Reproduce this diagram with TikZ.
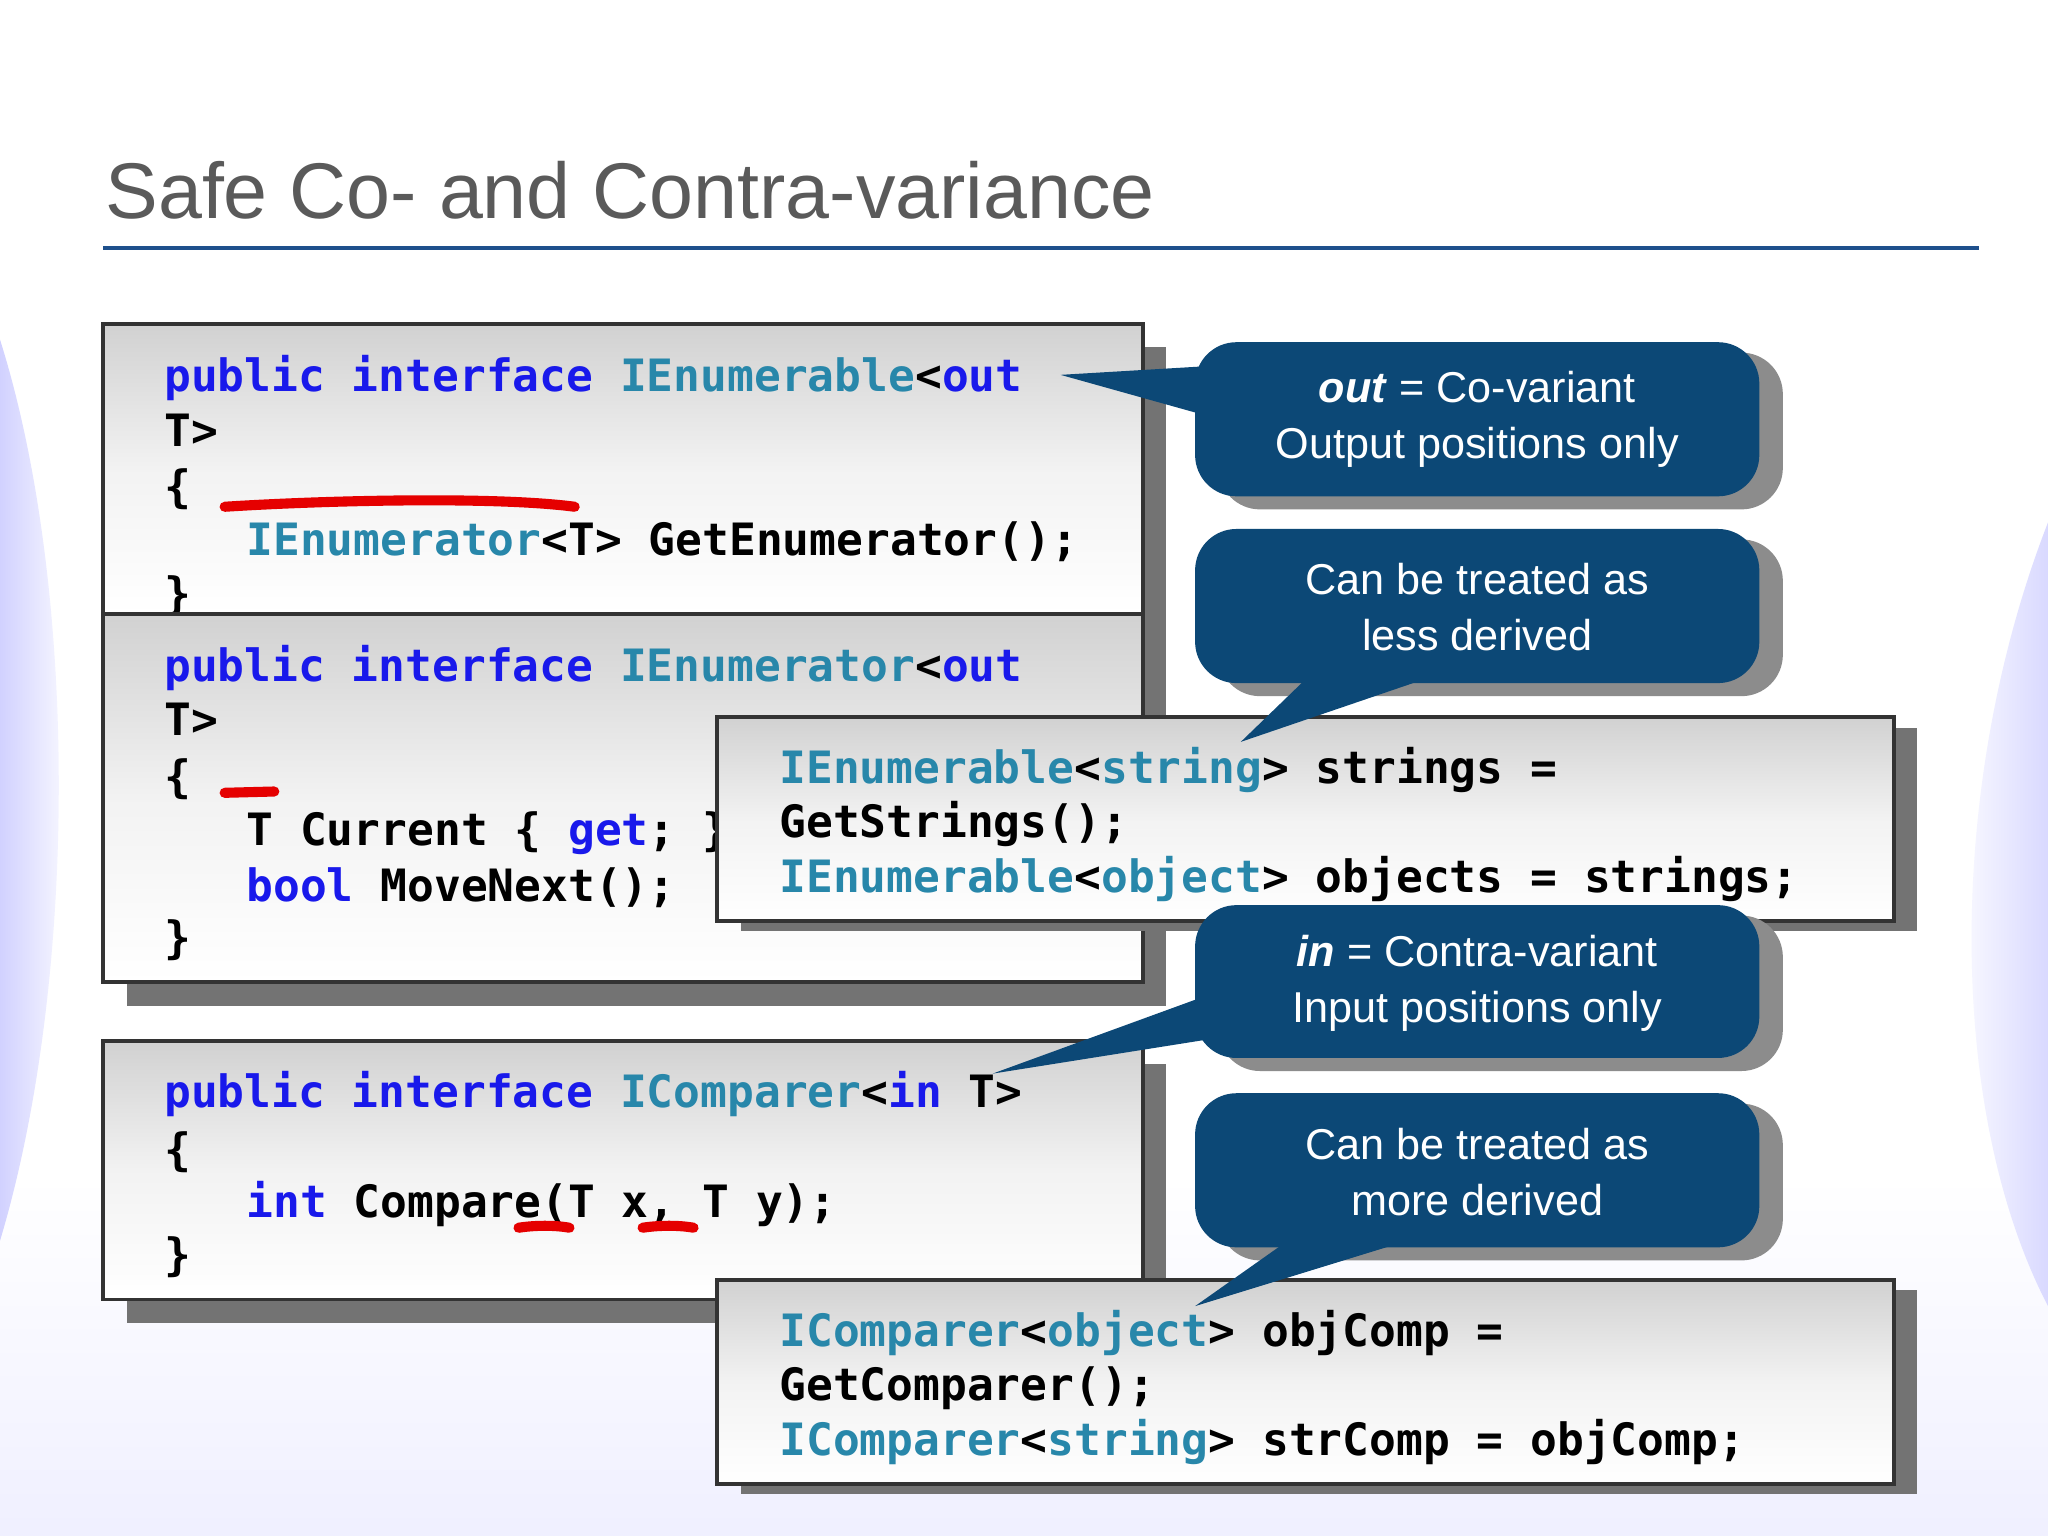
\documentclass[tikz,border=0pt]{standalone}
\usepackage{fontspec}
\setmainfont{Liberation Sans}
\setmonofont{DejaVu Sans Mono}
\definecolor{kw}{RGB}{25,25,235}
\definecolor{ty}{RGB}{40,135,170}
\definecolor{cal}{RGB}{12,72,118}
\definecolor{ttl}{RGB}{90,90,90}
\definecolor{tline}{RGB}{30,80,140}
\newcommand{\K}[1]{\textcolor{kw}{#1}}
\newcommand{\Ty}[1]{\textcolor{ty}{#1}}
\tikzset{
  codebox/.style={draw=black!80,line width=0.8pt,top color=black!18,bottom color=white,middle color=black!5},
  shadowbox/.style={fill=black!55},
  code/.style={anchor=base west,inner sep=0pt,font=\ttfamily\bfseries\fontsize{9.7pt}{12pt}\selectfont},
  callout/.style={fill=cal},
  cshadow/.style={fill=black!45,rounded corners=9pt},
  ctext/.style={text=white,align=center,font=\fontsize{9.4pt}{12.2pt}\selectfont},
  redmark/.style={draw=red!90!black,line width=2.2pt,line cap=round}
}
\begin{document}
\begin{tikzpicture}[x=0.01cm,y=-0.01cm]
\useasboundingbox (0,0) rectangle (1568,1176);
\fill[white] (0,0) rectangle (1568,1176);
\shade[top color=white,bottom color=blue!6] (0,900) rectangle (1568,1176);
\shade[left color=blue!18,right color=white] (0,260) .. controls (60,450) and (60,750) .. (0,950) -- cycle;
\shade[right color=blue!15,left color=white] (1568,400) .. controls (1490,600) and (1490,850) .. (1568,1000) -- cycle;
% title
\node[anchor=base west,inner sep=0pt,text=ttl,font=\fontsize{17.2pt}{20pt}\selectfont] (title) at (80,167) {Safe Co- and Contra-variance};
\draw[tline,line width=1pt] (79,190) -- (1515,190);
% box 1
\fill[shadowbox] (97,266) rectangle (893,488);
\draw[codebox] (79,248) rectangle (875,470);
\node[code] (b1a) at (125,300) {\K{public interface} \Ty{IEnumerable}<\K{out}};
\node[code] (b1b) at (125,342) {T>};
\node[code] (b1c) at (125,385) {\{};
\node[code] (b1d) at (188,425) {\Ty{IEnumerator}<T> GetEnumerator();};
\node[code] (b1e) at (125,467) {\}};
\draw[redmark] (172,388) .. controls (250,383) and (380,380) .. (440,388);
% box 2
\fill[shadowbox] (97,488) rectangle (893,770);
\draw[codebox] (79,470) rectangle (875,752);
\node[code] (b2a) at (125,522) {\K{public interface} \Ty{IEnumerator}<\K{out}};
\node[code] (b2b) at (125,563) {T>};
\node[code] (b2c) at (125,607) {\{};
\node[code] (b2d) at (188,647) {T Current \{ \K{get}; \}};
\node[code] (b2e) at (188,690) {\K{bool} MoveNext();};
\node[code] (b2f) at (125,730) {\}};
\draw[redmark] (172,607) -- (210,606);
% box 3
\fill[shadowbox] (97,815) rectangle (893,1013);
\draw[codebox] (79,797) rectangle (875,995);
\node[code] (b3a) at (125,848) {\K{public interface} \Ty{IComparer}<\K{in} T>};
\node[code] (b3b) at (125,892) {\{};
\node[code] (b3c) at (188,932) {\K{int} Compare(T x, T y);};
\node[code] (b3d) at (125,973) {\}};
\draw[redmark] (397,940) .. controls (410,938) and (425,938) .. (436,940);
\draw[redmark] (492,940) .. controls (505,938) and (520,938) .. (531,940);
% box 4
\fill[shadowbox] (567,557) rectangle (1468,713);
\draw[codebox] (549,549) rectangle (1450,705);
\node[code] (b4a) at (596,600) {\Ty{IEnumerable}<\Ty{string}> strings =};
\node[code] (b4b) at (596,641) {GetStrings();};
\node[code] (b4c) at (596,683) {\Ty{IEnumerable}<\Ty{object}> objects = strings;};
% box 5
\fill[shadowbox] (567,988) rectangle (1468,1144);
\draw[codebox] (549,980) rectangle (1450,1136);
\node[code] (b5a) at (596,1031) {\Ty{IComparer}<\Ty{object}> objComp =};
\node[code] (b5b) at (596,1072) {GetComparer();};
\node[code] (b5c) at (596,1114) {\Ty{IComparer}<\Ty{string}> strComp = objComp;};
% callout 1
\coordinate (p1) at (812,287);
\fill[cshadow] (933,270) rectangle (1365,390);
\fill[callout] (p1) -- (930,280) -- (930,320) -- cycle;
\fill[callout,rounded corners=9pt] (915,262) rectangle (1347,380);
\node[ctext] (c1) at (1131,321) {\textbf{\textit{out}} = Co-variant\\Output positions only};
% callout 2
\coordinate (p2) at (950,568);
\fill[cshadow] (933,413) rectangle (1365,533);
\fill[callout] (p2) -- (1010,510) -- (1120,510) -- cycle;
\fill[callout,rounded corners=9pt] (915,405) rectangle (1347,523);
\node[ctext] (c2) at (1131,465) {Can be treated as\\less derived};
% callout 3
\coordinate (p3) at (760,822);
\fill[cshadow] (933,701) rectangle (1365,820);
\fill[callout] (p3) -- (930,760) -- (930,795) -- cycle;
\fill[callout,rounded corners=9pt] (915,693) rectangle (1347,810);
\node[ctext] (c3) at (1131,753) {\textbf{\textit{in}} = Contra-variant\\Input positions only};
% callout 4
\coordinate (p4) at (915,1000);
\fill[cshadow] (933,845) rectangle (1365,965);
\fill[callout] (p4) -- (1000,940) -- (1110,940) -- cycle;
\fill[callout,rounded corners=9pt] (915,837) rectangle (1347,955);
\node[ctext] (c4) at (1131,897) {Can be treated as\\more derived};
\end{tikzpicture}
\end{document}
